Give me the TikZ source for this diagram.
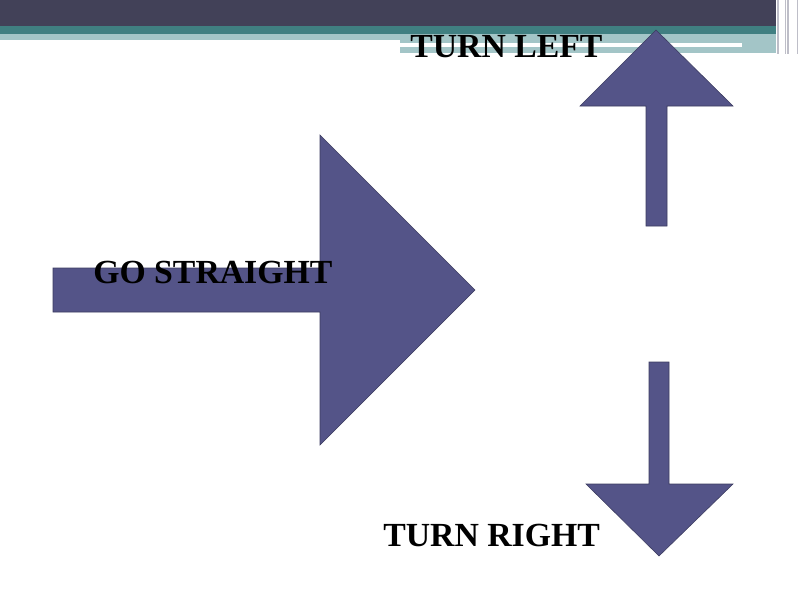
\documentclass[tikz,border=0pt]{standalone}
\usepackage{fontspec}
\setmainfont{Liberation Serif}
\usetikzlibrary{positioning}
\definecolor{dusk}{RGB}{66,65,88}
\definecolor{lagoon}{RGB}{64,127,129}
\definecolor{mist}{RGB}{163,197,199}
\definecolor{frame}{RGB}{190,190,200}
\definecolor{indigo}{RGB}{84,84,136}
\tikzset{
  bigarrow/.style={fill=indigo,draw=indigo!70!black,line width=0.4pt,line join=miter},
  sign/.style={font=\fontsize{24}{28}\selectfont\bfseries,text=black,inner sep=0pt,anchor=base west},
}

\begin{document}
\begin{tikzpicture}[x=0.025cm,y=-0.025cm]
  \useasboundingbox (0,0) rectangle (800,600);
  % header band
  \fill[dusk] (0,0) rectangle (776,26);
  \fill[lagoon] (0,26) rectangle (776,34);
  \fill[mist] (0,34) rectangle (776,40);
  \fill[mist] (400,40) rectangle (776,53);
  \fill[white] (400,43) rectangle (742,47);
  \foreach \x/\w in {778/0.8,785/0.6,788/0.8,797/0.6}
    \draw[frame,line width=\w pt] (\x,0) -- (\x,54);
  % arrows
  \filldraw[bigarrow] (53,268) -- (320,268) -- (320,135) -- (475,290)
    -- (320,445) -- (320,312) -- (53,312) -- cycle;
  \filldraw[bigarrow] (646,226) -- (646,106) -- (580,106) -- (656,30)
    -- (733,106) -- (667,106) -- (667,226) -- cycle;
  \filldraw[bigarrow] (649,362) -- (669,362) -- (669,484) -- (733,484)
    -- (659,556) -- (586,484) -- (649,484) -- cycle;
  % labels
  \node[sign] (straight) at (93,283) {GO STRAIGHT};
  \node[sign] (left) at (410,57) {TURN LEFT};
  \node[sign] (right) at (383,546) {TURN RIGHT};
\end{tikzpicture}
\end{document}
